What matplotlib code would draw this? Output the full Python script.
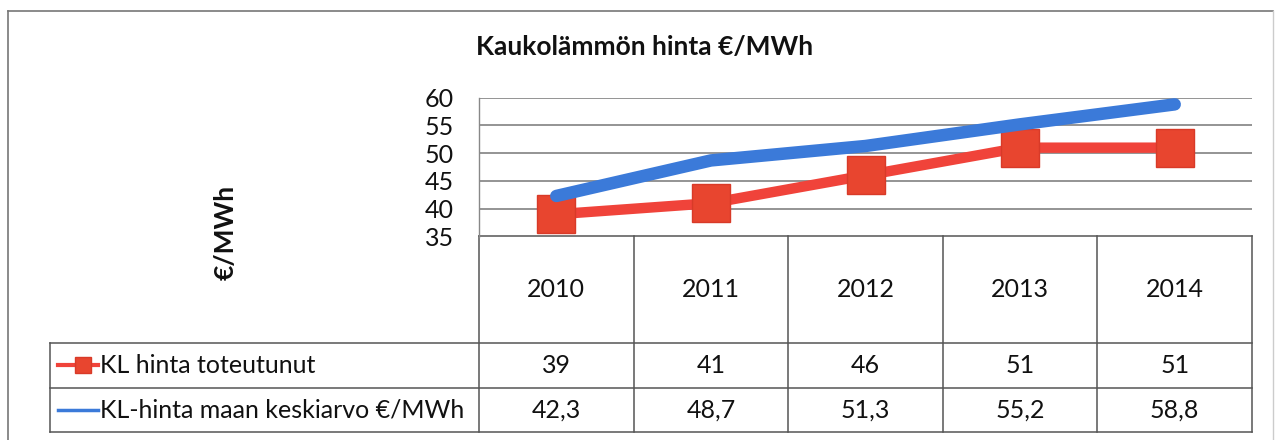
import matplotlib
matplotlib.use("Agg")
import matplotlib.pyplot as plt
import matplotlib.transforms as mtransforms
from matplotlib.lines import Line2D

years = ["2010", "2011", "2012", "2013", "2014"]
toteutunut = [39, 41, 46, 51, 51]
keskiarvo = [42.3, 48.7, 51.3, 55.2, 58.8]
toteutunut_labels = ["39", "41", "46", "51", "51"]
keskiarvo_labels = ["42,3", "48,7", "51,3", "55,2", "58,8"]
series_names = ["KL hinta toteutunut", "KL-hinta maan keskiarvo €/MWh"]
yticks = [35, 40, 45, 50, 55, 60]
title = "Kaukolämmön hinta €/MWh"
ylabel = "€/MWh"

plt.rcParams['font.family'] = ['Lato', 'DejaVu Sans']

W, H = 1280, 440
fig = plt.figure(figsize=(W / 100, H / 100), dpi=100)

def fx(px):
    return px / W

def fy(py):
    return 1 - py / H

FS = 18
TC = "#111111"

# plot area
left, right, top, bottom = 479, 1252, 97.7, 236.5
ax = fig.add_axes([fx(left), fy(bottom), fx(right) - fx(left), fy(top) - fy(bottom)])
ax.set_xlim(-0.5, len(years) - 0.5)
ax.set_ylim(35, 60)
ax.set_yticks(yticks)
ax.set_yticklabels([str(t) for t in yticks], fontsize=FS, color=TC)
ax.set_xticks([])
ax.tick_params(axis='y', length=0, pad=18)
for s in ax.spines.values():
    s.set_visible(False)
ax.spines['left'].set_visible(True)
ax.spines['left'].set_color("#888888")
ax.spines['left'].set_linewidth(1)
ax.grid(axis='y', color="#777777", linewidth=1.1)
ax.set_axisbelow(True)

x = list(range(len(years)))
red = "#F0433A"
blue = "#3B7AD9"
ax.plot(x, toteutunut, color=red, linewidth=7.5, marker='s', markersize=28,
        markerfacecolor="#E8452F", markeredgecolor="#D83A28", markeredgewidth=1,
        clip_on=False, zorder=3)
ax.plot(x, keskiarvo, color=blue, linewidth=9, solid_capstyle='round',
        clip_on=False, zorder=4)

# title and y label
fig.text(fx(645), fy(47), title, ha='center', va='center', fontsize=19,
         fontweight='bold', color=TC)
fig.text(fx(226), fy(232), ylabel, ha='center', va='center', rotation=90,
         fontsize=19, fontweight='bold', color=TC)

# data table
blend = mtransforms.blended_transform_factory(ax.transData, fig.transFigure)
lc = "#555555"
lw = 1.1
row_top = 236.5
row_head = 342.7
row_1 = 388
row_2 = 432
tab_left = 50
for i in range(len(years) + 1):
    xv = i - 0.5
    ax.add_line(Line2D([xv, xv], [fy(row_top), fy(row_2)], transform=blend,
                       color=lc, linewidth=lw, clip_on=False))
ax.add_line(Line2D([-0.5, len(years) - 0.5], [fy(row_top), fy(row_top)], transform=blend,
                   color=lc, linewidth=lw, clip_on=False))
for yy in [row_head, row_1, row_2]:
    fig.add_artist(Line2D([fx(tab_left), fx(right)], [fy(yy), fy(yy)],
                          transform=fig.transFigure, color=lc, linewidth=lw))
fig.add_artist(Line2D([fx(tab_left), fx(tab_left)], [fy(row_head), fy(row_2)],
                      transform=fig.transFigure, color=lc, linewidth=lw))

for i, yr in enumerate(years):
    ax.text(i, fy((row_top + row_head) / 2), yr, transform=blend, ha='center',
            va='center', fontsize=FS, color=TC)
    ax.text(i, fy((row_head + row_1) / 2), toteutunut_labels[i], transform=blend,
            ha='center', va='center', fontsize=FS, color=TC)
    ax.text(i, fy((row_1 + row_2) / 2), keskiarvo_labels[i], transform=blend,
            ha='center', va='center', fontsize=FS, color=TC)

# legend keys in table
y1 = fy((row_head + row_1) / 2)
y2 = fy((row_1 + row_2) / 2)
fig.add_artist(Line2D([fx(58), fx(98)], [y1, y1], transform=fig.transFigure,
                      color=red, linewidth=3))
fig.add_artist(Line2D([fx(83)], [y1], transform=fig.transFigure, marker='s',
                      markersize=12, markerfacecolor="#E8452F", markeredgecolor="#D83A28",
                      linestyle='none'))
fig.add_artist(Line2D([fx(58), fx(98)], [y2, y2], transform=fig.transFigure,
                      color=blue, linewidth=2.5))
fig.text(fx(100), y1, series_names[0], ha='left', va='center', fontsize=FS, color=TC)
fig.text(fx(100), y2, series_names[1], ha='left', va='center', fontsize=FS, color=TC)

# outer border
bc = "#777777"
fig.add_artist(Line2D([fx(8), fx(1273)], [fy(11), fy(11)], transform=fig.transFigure,
                      color=bc, linewidth=1.2))
fig.add_artist(Line2D([fx(8), fx(8)], [fy(11), fy(440)], transform=fig.transFigure,
                      color=bc, linewidth=1.2))
fig.add_artist(Line2D([fx(1273), fx(1273)], [fy(11), fy(440)], transform=fig.transFigure,
                      color="#cccccc", linewidth=1.0))

fig.savefig("out.png", dpi=100)
